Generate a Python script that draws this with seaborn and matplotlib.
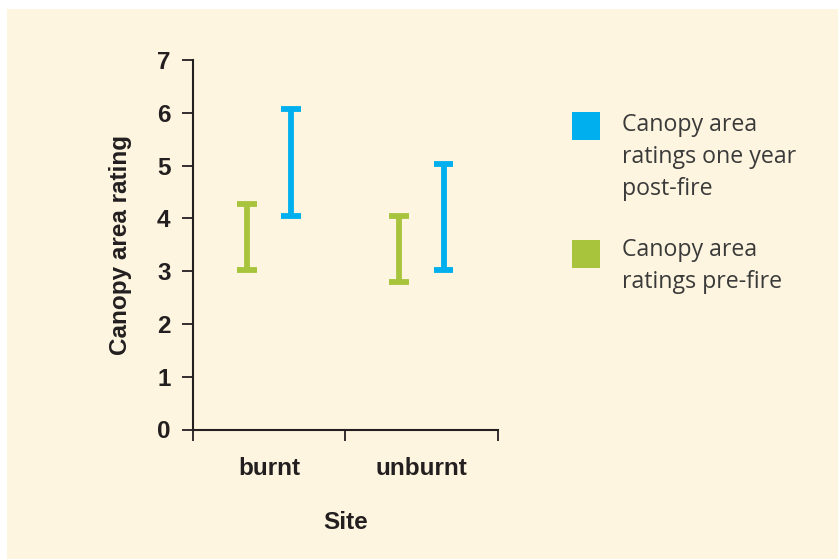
import matplotlib
matplotlib.use("Agg")
import matplotlib.pyplot as plt
import seaborn as sns
import pandas as pd
from matplotlib.patches import Rectangle

# ---- data ----
sites = ["burnt", "unburnt"]
periods = ["Canopy area ratings pre-fire", "Canopy area ratings one year post-fire"]
pre_low = [3.03, 2.80]
pre_high = [4.28, 4.05]
post_low = [4.05, 3.03]
post_high = [6.07, 5.03]
yticks = [0, 1, 2, 3, 4, 5, 6, 7]
legend_labels = ["Canopy area\nratings one year\npost-fire", "Canopy area\nratings pre-fire"]

BLUE = "#00B0EE"
GREEN = "#A7C43C"
CREAM = "#FDF5DF"
DARK = "#231F20"

rows = []
for i, s in enumerate(sites):
    rows.append((s, periods[0], pre_low[i]))
    rows.append((s, periods[0], pre_high[i]))
    rows.append((s, periods[1], post_low[i]))
    rows.append((s, periods[1], post_high[i]))
df = pd.DataFrame(rows, columns=["Site", "Period", "Rating"])

sns.set_theme(style="ticks")
plt.rcParams["font.family"] = ["Liberation Sans", "DejaVu Sans"]

W, H = 838, 559
fig = plt.figure(figsize=(W / 100, H / 100), dpi=100, facecolor="white")
fig.add_artist(Rectangle((7 / W, 0), 1, (H - 9) / H, transform=fig.transFigure,
                         facecolor=CREAM, edgecolor="none", zorder=-10))

ax = fig.add_axes([192.7 / W, (H - 429.5) / H, 305 / W, 369.5 / H])
ax.set_facecolor("none")

sns.pointplot(data=df, x="Site", y="Rating", hue="Period", hue_order=periods,
              order=sites, palette=[GREEN, BLUE], errorbar=("pi", 100),
              estimator="mean", dodge=0.29, marker="", linestyle="none",
              capsize=0.13, err_kws={"linewidth": 4.2, "solid_capstyle": "butt"},
              legend=False, ax=ax)

FS = 17.5
ax.set_xlim(-0.5, 1.5)
ax.set_ylim(0, 7)
ax.set_yticks(yticks)
ax.set_yticklabels([str(t) for t in yticks], fontsize=FS, fontweight="bold", color=DARK)
ax.set_xticks([-0.5, 0.5, 1.5])
ax.set_xticklabels(["", "", ""])
ax.set_xticks([0, 1], minor=True)
ax.set_xticklabels(sites, minor=True, fontsize=FS, fontweight="bold", color=DARK)
ax.tick_params(axis="x", which="minor", length=0, pad=20)
ax.tick_params(axis="x", which="major", length=8, width=1.3, color=DARK, direction="out")
ax.tick_params(axis="y", length=8, width=1.3, color=DARK, direction="out", pad=8)

for sp in ["top", "right"]:
    ax.spines[sp].set_visible(False)
for sp in ["left", "bottom"]:
    ax.spines[sp].set_color(DARK)
    ax.spines[sp].set_linewidth(1.5)

ax.set_xlabel("Site", fontsize=FS, fontweight="bold", color=DARK, labelpad=22)
ax.set_ylabel("Canopy area rating", fontsize=FS, fontweight="bold", color=DARK, labelpad=18)

# legend
lx0 = 572
for (label, color, ytop, ty) in [(legend_labels[0], BLUE, 112, 113),
                                  (legend_labels[1], GREEN, 240, 238)]:
    fig.add_artist(Rectangle((lx0 / W, (H - ytop - 28) / H), 28 / W, 28 / H,
                             transform=fig.transFigure, facecolor=color, edgecolor="none"))
    fig.text(622 / W, (H - ty) / H, label, fontsize=16.7, color="#3a3a3a",
             family=["Open Sans", "DejaVu Sans"], va="top", ha="left", linespacing=1.45)

fig.savefig("out.png", dpi=100, facecolor=fig.get_facecolor())
